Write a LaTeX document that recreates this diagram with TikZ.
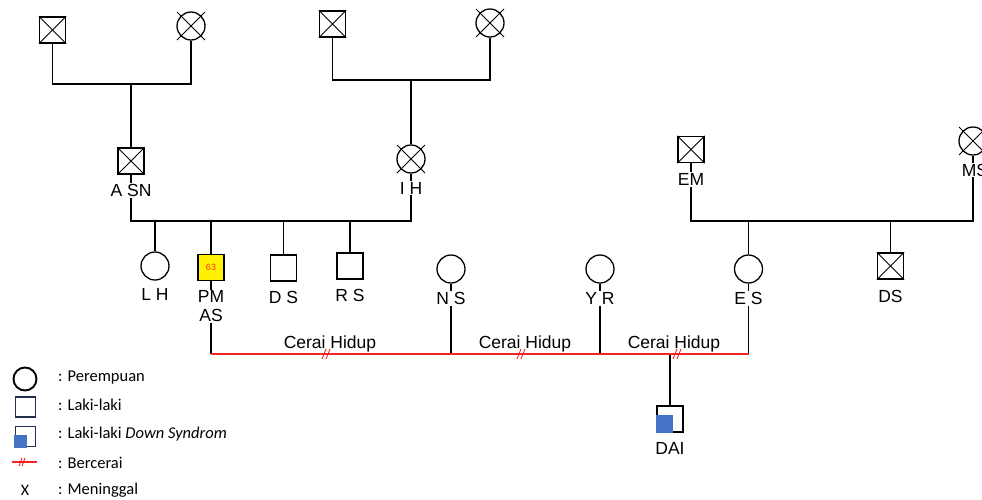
\documentclass[tikz,border=0pt]{standalone}
\usepackage{fontspec}
\setmainfont{Liberation Sans}
\newfontfamily\legfont{Carlito}
\usetikzlibrary{calc}
\definecolor{redl}{HTML}{F22424}
\definecolor{dsblue}{HTML}{4472C4}
\definecolor{navy}{HTML}{22304F}
\definecolor{numcol}{HTML}{FF3010}
\begin{document}
\begin{tikzpicture}[x=1pt,y=-1pt,
  sq/.style={draw, rectangle, minimum size=26pt, inner sep=0pt, line width=1.3pt},
  ci/.style={draw, circle, minimum size=28pt, inner sep=0pt, line width=1.3pt},
  lbl/.style={fill=white, inner sep=1pt, font=\fontsize{17.5}{19}\selectfont},
  txt/.style={inner sep=0pt, font=\fontsize{17.5}{19}\selectfont},
  conn/.style={line width=1.4pt},
  xline/.style={line width=0.8pt},
  redline/.style={draw=redl, line width=1.4pt},
  legtxt/.style={anchor=west, inner sep=0pt, font=\legfont\fontsize{16.5}{18}\selectfont},
  legsq/.style={draw=navy, rectangle, minimum size=20pt, inner sep=0pt, line width=1.9pt}]
\useasboundingbox (0,0) rectangle (982,499);
\fill[white] (0,0) rectangle (982,499);

% ---------- people ----------
\node[sq] (g1a) at (52.5,30) {};
\node[ci] (g1b) at (191,26) {};
\node[sq] (g2a) at (332.5,24) {};
\node[ci] (g2b) at (490,23) {};
\node[sq] (asn) at (131,161) {};
\node[ci] (ih) at (411,159) {};
\node[sq] (em) at (691,149.5) {};
\node[ci] (ms) at (973,141) {};
\node[ci] (lh) at (155,266) {};
\node[sq, fill=yellow] (pm) at (211,267.5) {\fontsize{9}{10}\selectfont\color{numcol}63};
\node[sq] (ds) at (283.5,268) {};
\node[sq] (rs) at (350,266) {};
\node[ci] (ns) at (451,269) {};
\node[ci] (yr) at (600,269) {};
\node[ci] (es) at (748.5,269) {};
\node[sq] (ds2) at (890.5,266) {};
\node[sq] (dai) at (670,419) {};
\fill[dsblue] ($(dai.south west)+(-0.7,0.7)$) rectangle ($(dai.center)+(3,-4)$);

% ---------- crosses (deceased) ----------
\foreach \n in {g1a,g2a,asn,em,ds2}{
  \draw[xline] (\n.north west) -- (\n.south east);
  \draw[xline] (\n.south west) -- (\n.north east);
}
\foreach \n in {g1b,g2b,ih,ms}{
  \draw[xline] ($(\n.center)+(-14,-14)$) -- ($(\n.center)+(14,14)$);
  \draw[xline] ($(\n.center)+(-14,14)$) -- ($(\n.center)+(14,-14)$);
}

% ---------- bus lines ----------
\coordinate (b1) at (131,84);
\coordinate (b2) at (411,80);
\coordinate (b3) at (0,221);
\coordinate (b4) at (0,221);
\coordinate (mline) at (0,354);

\draw[conn] (g1a.south) -- (g1a.south |- b1) -- (g1b.south |- b1) -- (g1b.south);
\draw[conn] (b1) -- (asn.north);
\draw[conn] (g2a.south) -- (g2a.south |- b2) -- (g2b.south |- b2) -- (g2b.south);
\draw[conn] (b2) -- (ih.north);

\draw[conn] (asn.south) -- (asn.south |- b3) -- (ih.south |- b3) -- (ih.south);
\foreach \n in {lh,pm,ds,rs}{ \draw[conn] (\n.north) -- (\n.north |- b3); }

\draw[conn] (em.south) -- (em.south |- b4) -- (ms.south |- b4) -- (ms.south);
\foreach \n in {es,ds2}{ \draw[conn] (\n.north) -- (\n.north |- b4); }

\foreach \n in {pm,ns,yr,es}{ \draw[conn] (\n.south) -- (\n.south |- mline); }
\draw[conn] (dai.north) -- (dai.north |- mline);
\draw[redline] (pm.south |- mline) -- (es.south |- mline);

% divorce marks
\foreach \x in {327,522,678}{
  \coordinate (dv) at (\x,354);
  \draw[redl, line width=0.9pt] ($(dv)+(-5,5)$) -- ($(dv)+(-1,-5)$);
  \draw[redl, line width=0.9pt] ($(dv)+(-1,5)$) -- ($(dv)+(3,-5)$);
}

% ---------- labels ----------
\node[lbl] (lasn) at (131,190.5) {A SN};
\node[lbl] (lih) at (411,188) {I H};
\node[lbl] (lem) at (691,179.5) {EM};
\node[lbl] (lms) at (975,170) {MS};
\node[lbl] (llh) at (155,294) {L H};
\node[lbl, align=center, inner sep=1pt] (lpm) at (211,306.5) {PM\\[0pt]AS};
\node[lbl] (lds) at (283.5,297) {D S};
\node[lbl] (lrs) at (350,295) {R S};
\node[lbl] (lns) at (451,298.5) {N S};
\node[lbl] (lyr) at (600,298.5) {Y R};
\node[lbl] (les) at (748.5,298.5) {E S};
\node[lbl] (lds2) at (890.5,296) {DS};
\node[lbl] (ldai) at (670,448.5) {DAI};

\node[txt] (c1) at (330,344) {Cerai Hidup};
\node[txt] (c2) at (525,344) {Cerai Hidup};
\node[txt] (c3) at (674,344) {Cerai Hidup};

% ---------- legend ----------
\node[draw, circle, minimum size=23pt, inner sep=0pt, line width=1.9pt] (kc) at (25,379) {};
\node[legsq] (ks) at (25.5,407) {};
\node[legsq] (kd) at (25.5,436.5) {};
\fill[dsblue] ($(kd.south west)+(-0.9,0.9)$) rectangle ($(kd.center)+(1.5,-1.5)$);
\coordinate (kr1) at (12,462);
\coordinate (kr2) at (37,462);
\draw[redl, line width=1.1pt] (kr1) -- (kr2);
\draw[redl, line width=0.9pt] (19,466) -- (22,458);
\draw[redl, line width=0.9pt] (22,466) -- (25,458);
\node[inner sep=0pt, font=\legfont\fontsize{16}{18}\selectfont] (kx) at (25,490) {X};

\node[legtxt] (t1) at (58,378) {: Perempuan};
\node[legtxt] (t2) at (58,404.5) {: Laki-laki};
\node[legtxt] (t3) at (58,434) {: Laki-laki \textit{Down Syndrom}};
\node[legtxt] (t4) at (58,463) {: Bercerai};
\node[legtxt] (t5) at (58,490) {: Meninggal};
\end{tikzpicture}
\end{document}
